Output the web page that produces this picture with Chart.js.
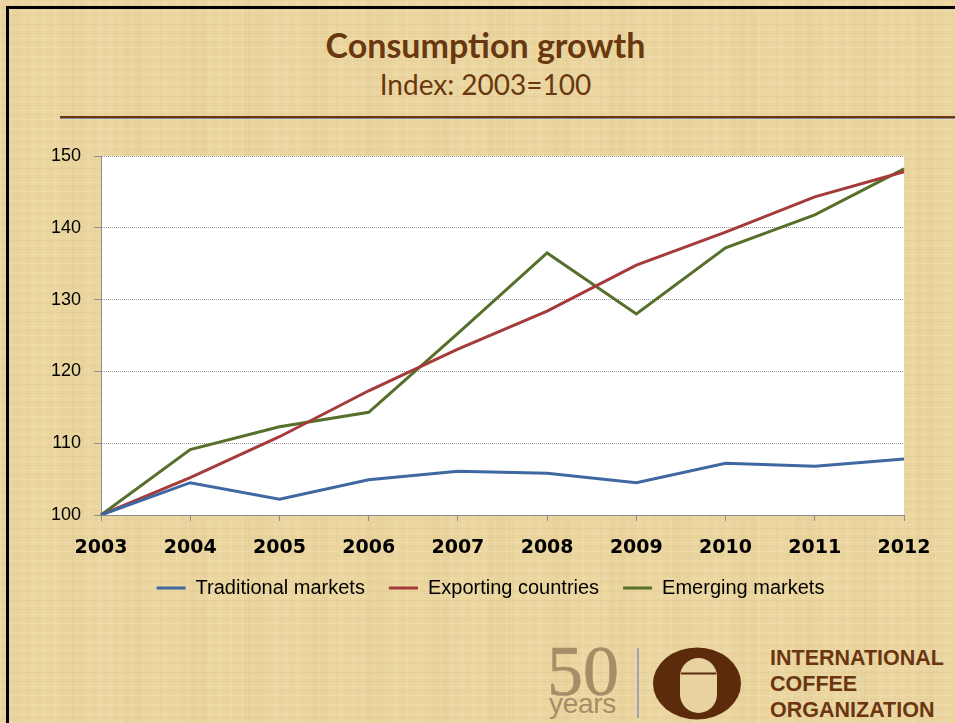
<!DOCTYPE html>
<html>
<head>
<meta charset="utf-8">
<title>Consumption growth</title>
<script src="https://cdn.jsdelivr.net/npm/chart.js@4.4.1/dist/chart.umd.min.js"></script>
<style>
  html, body { margin: 0; padding: 0; }
  body {
    width: 955px; height: 723px; overflow: hidden; position: relative;
    background-color: #ebd6a0;
    background-image:
      repeating-linear-gradient(90deg, rgba(255,250,225,0.14) 0 1px, transparent 1px 6px, rgba(160,120,50,0.04) 6px 7px, transparent 7px 11px),
      repeating-linear-gradient(0deg, rgba(255,250,225,0.12) 0 1px, transparent 1px 5px, rgba(150,110,40,0.05) 5px 6px, transparent 6px 9px),
      repeating-linear-gradient(90deg, rgba(200,165,95,0.05) 0 23px, transparent 23px 61px);
  }
  .frame { position: absolute; left: 6px; top: 6px; right: -10px; bottom: -10px;
           border-left: 3px solid #000; border-top: 3px solid #000; }
  .title { position: absolute; left: 0; width: 971px; text-align: center;
           font-family: Lato, sans-serif; color: #6a3810; line-height: 1.2; }
  #t1 { top: 25px; font-size: 34px; font-weight: bold; }
  #t2 { top: 68px; font-size: 28px; }
  .rule { position: absolute; left: 60px; right: 0; top: 116px; height: 2px;
          background: #6a3511; border-bottom: 1px solid #8089a0; }
  #chartBox { position: absolute; left: 0; top: 0; }
  .fifty { position: absolute; left: 547px; top: 636px; font-family: 'Liberation Serif', serif;
           font-size: 72px; line-height: 70px; color: #a88c68; -webkit-text-stroke: 0.6px #a88c68; }
  .years { position: absolute; left: 549px; top: 690px; font-family: 'Liberation Sans', sans-serif;
           font-size: 28px; line-height: 28px; letter-spacing: -0.3px; color: #a88c68; }
  .vbar { position: absolute; left: 637px; top: 648px; width: 2px; height: 70px; background: #a2a6b4; }
  .oval { position: absolute; left: 650px; top: 645px; }
  .ico { position: absolute; left: 770px; top: 645px; font-family: 'Liberation Sans', Arial, sans-serif;
         font-weight: bold; font-size: 21.5px; line-height: 26px; color: #6b3512; }
</style>
</head>
<body>
<div class="frame"></div>
<div class="title" id="t1">Consumption growth</div>
<div class="title" id="t2">Index: 2003=100</div>
<div class="rule"></div>

<div class="fifty">50</div>
<div class="years">years</div>
<div class="vbar"></div>
<svg class="oval" width="96" height="80">
  <ellipse cx="47" cy="38.5" rx="44" ry="36" fill="#5b2b0c"/>
  <rect x="30" y="13" width="37" height="55" rx="18.5" fill="#e8d3a0"/>
  <line x1="31" y1="28.5" x2="66" y2="28.5" stroke="#5b2b0c" stroke-width="2"/>
</svg>
<div class="ico">INTERNATIONAL<br>COFFEE<br>ORGANIZATION</div>

<div id="chartBox"><canvas id="growthChart" width="955" height="723"></canvas></div>

<script>
const years = ['2003', '2004', '2005', '2006', '2007', '2008', '2009', '2010', '2011', '2012'];
const traditional = [100, 104.5, 102.2, 104.9, 106.1, 105.8, 104.5, 107.2, 106.8, 107.8];
const exporting = [100, 105.2, 110.9, 117.3, 123.1, 128.4, 134.8, 139.4, 144.3, 147.8];
const emerging = [100, 109.1, 112.3, 114.3, 125.3, 136.5, 128.0, 137.2, 141.8, 148.2];
const yMin = 100;
const yMax = 150;
const yStep = 10;

// white plot area behind the lines
const plotBackground = {
    id: 'plotBackground',
    beforeDraw(chart) {
        const { ctx, chartArea } = chart;
        ctx.save();
        ctx.fillStyle = '#ffffff';
        ctx.fillRect(chartArea.left, chartArea.top, chartArea.right - chartArea.left, chartArea.bottom - chartArea.top);
        ctx.restore();
    }
};

// legend sits a little left of the plot centre and close under the year labels
const legendNudge = {
    id: 'legendNudge',
    afterLayout(chart) {
        chart.legend.left -= 12;
        chart.legend.right -= 12;
        chart.legend.top -= 6;
        chart.legend.bottom -= 6;
    }
};

function series(label, data, color) {
    return {
        label: label,
        data: data,
        borderColor: color,
        backgroundColor: color,
        borderWidth: 3,
        pointRadius: 0,
        pointHoverRadius: 0,
        pointStyle: 'line',
        pointBorderWidth: 3,
        tension: 0,
        fill: false
    };
}

function createChart() {
    const ctx = document.getElementById('growthChart').getContext('2d');
    new Chart(ctx, {
        type: 'line',
        data: {
            labels: years,
            datasets: [
                series('Traditional markets', traditional, '#3f68a2'),
                series('Exporting countries', exporting, '#a33c3a'),
                series('Emerging markets', emerging, '#56702c')
            ]
        },
        plugins: [plotBackground, legendNudge],
        options: {
            responsive: false,
            animation: false,
            layout: {
                padding: { top: 156, left: 37, right: 51, bottom: 109 }
            },
            plugins: {
                title: { display: false },
                tooltip: { enabled: false },
                legend: {
                    position: 'bottom',
                    fullSize: false,
                    labels: {
                        usePointStyle: true,
                        pointStyleWidth: 29,
                        padding: 24,
                        color: '#000000',
                        font: { family: "'Liberation Sans', Arial, sans-serif", size: 20 }
                    }
                }
            },
            scales: {
                x: {
                    afterFit: function(scale) { scale.height = 45; },
                    grid: {
                        drawOnChartArea: false,
                        drawTicks: true,
                        tickLength: 6,
                        tickColor: '#8c8c8c'
                    },
                    border: { color: '#8c8c8c', width: 1 },
                    ticks: {
                        padding: 16,
                        color: '#000000',
                        maxRotation: 0,
                        font: { family: "'DejaVu Sans', sans-serif", size: 19, weight: 'bold' }
                    }
                },
                y: {
                    min: yMin,
                    max: yMax,
                    afterFit: function(scale) { scale.width = 64; },
                    grid: {
                        color: '#9a9a9a',
                        lineWidth: 1,
                        tickLength: 7,
                        tickColor: '#8c8c8c',
                        tickBorderDash: []
                    },
                    border: { color: '#8c8c8c', width: 1, dash: [1, 1] },
                    ticks: {
                        stepSize: yStep,
                        padding: 13,
                        color: '#000000',
                        font: { family: "'Liberation Sans', Arial, sans-serif", size: 18 }
                    }
                }
            }
        }
    });
}

window.onload = createChart;
</script>
</body>
</html>
